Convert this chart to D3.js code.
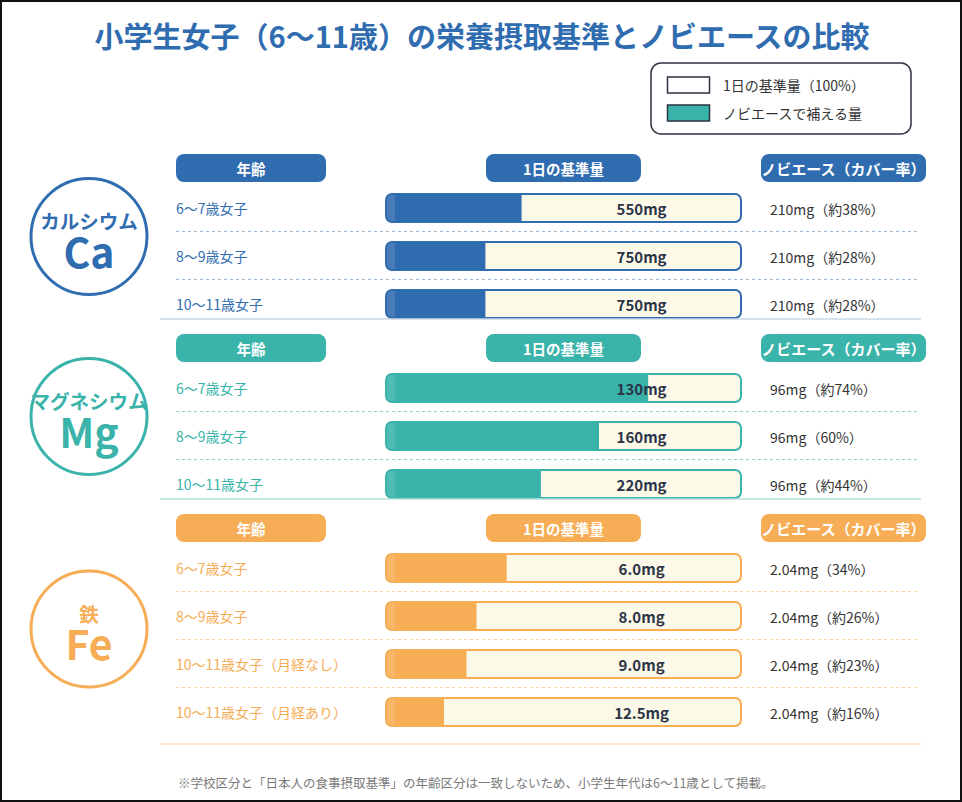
<!DOCTYPE html>
<html><head><meta charset="utf-8">
<script src="https://cdn.jsdelivr.net/npm/d3@7"></script>
<style>
html,body{margin:0;padding:0;background:#fff;}
svg{display:block;font-family:"Noto Sans CJK JP","Noto Sans",sans-serif;}
</style></head>
<body>
<script>
// ---- data ----
const titleText = "小学生女子（6〜11歳）の栄養摂取基準とノビエースの比較";
const footnote = "※学校区分と「日本人の食事摂取基準」の年齢区分は一致しないため、小学生年代は6〜11歳として掲載。";
const legendLabels = ["1日の基準量（100%）", "ノビエースで補える量"];
const headerLabels = ["年齢", "1日の基準量", "ノビエース（カバー率）"];

const minerals = ["カルシウム", "マグネシウム", "鉄"];
const symbols = ["Ca", "Mg", "Fe"];

const caAges = ["6〜7歳女子", "8〜9歳女子", "10〜11歳女子"];
const caBase = [550, 750, 750];
const caSupply = [210, 210, 210];
const caCoverage = ["約38%", "約28%", "約28%"];

const mgAges = ["6〜7歳女子", "8〜9歳女子", "10〜11歳女子"];
const mgBase = [130, 160, 220];
const mgSupply = [96, 96, 96];
const mgCoverage = ["約74%", "60%", "約44%"];

const feAges = ["6〜7歳女子", "8〜9歳女子", "10〜11歳女子（月経なし）", "10〜11歳女子（月経あり）"];
const feBase = [6.0, 8.0, 9.0, 12.5];
const feSupply = [2.04, 2.04, 2.04, 2.04];
const feCoverage = ["34%", "約26%", "約23%", "約16%"];

// ---- styling ----
const W = 962, H = 802;
const sectionColors = ["#2f6cb0", "#3ab3aa", "#f6ad55"];
const dashColors = ["#9dbbd9", "#92d3cd", "#f9d3a3"];
const sepColors = ["#c8d8e6", "#b3dfda", "#fde2bd"];
const cream = "#fdf9e9";

const sections = [
  {ages: caAges, base: caBase, supply: caSupply, cov: caCoverage, decimals: 0},
  {ages: mgAges, base: mgBase, supply: mgSupply, cov: mgCoverage, decimals: 0},
  {ages: feAges, base: feBase, supply: feSupply, cov: feCoverage, decimals: 1}
];
const fmtSupply = v => (Number.isInteger(v) ? v : d3.format(".2f")(v)) + "mg";

const svg = d3.select("body").append("svg").attr("width", W).attr("height", H);
svg.append("rect").attr("x", 1).attr("y", 1).attr("width", W - 2).attr("height", H - 2)
  .attr("fill", "#fff").attr("stroke", "#111").attr("stroke-width", 2);

// title
svg.append("text").attr("x", 482).attr("y", 48).attr("text-anchor", "middle")
  .attr("font-size", 29).attr("font-weight", 700).attr("fill", sectionColors[0]).text(titleText);

// legend
const lg = svg.append("g");
lg.append("rect").attr("x", 651).attr("y", 63).attr("width", 260).attr("height", 71).attr("rx", 10)
  .attr("fill", "#fff").attr("stroke", "#2d3340").attr("stroke-width", 1.5);
const legendFills = ["#ffffff", sectionColors[1]];
const lgY = d3.scalePoint().domain(legendLabels).range([85, 113]);
legendLabels.forEach((l, i) => {
  lg.append("rect").attr("x", 667.5).attr("y", lgY(l) - 8).attr("width", 42).attr("height", 16)
    .attr("fill", legendFills[i]).attr("stroke", "#2d3340").attr("stroke-width", 1.5);
  lg.append("text").attr("x", 723).attr("y", lgY(l)).attr("dominant-baseline", "central")
    .attr("font-size", 14).attr("fill", "#333").text(l);
});

// column layout
const cols = [{x: 176, w: 150}, {x: 486, w: 155}, {x: 761, w: 165}];
const barX = d3.scaleLinear().domain([0, 1]).range([386, 741]);
const barH = 28;

let secTop = 154;
sections.forEach((s, si) => {
  const color = sectionColors[si];
  const n = s.ages.length;
  const rowY = d3.scaleLinear().domain([0, 1]).range([secTop + 54, secTop + 102]);
  const lastY = rowY(n - 1);
  const bottom = lastY + (si === sections.length - 1 ? 32 : 15);
  const g = svg.append("g");

  // header pills
  headerLabels.forEach((h, i) => {
    g.append("rect").attr("x", cols[i].x).attr("y", secTop).attr("width", cols[i].w).attr("height", 28)
      .attr("rx", 8).attr("fill", color);
    g.append("text").attr("x", cols[i].x + cols[i].w / 2).attr("y", secTop + 14.5)
      .attr("text-anchor", "middle").attr("dominant-baseline", "central")
      .attr("font-size", i === 2 ? 15 : 14.5).attr("font-weight", 700).attr("fill", "#fff").text(h);
  });

  // circle
  const cy = (secTop + bottom) / 2;
  g.append("circle").attr("cx", 89).attr("cy", cy).attr("r", 58)
    .attr("fill", "#fff").attr("stroke", color).attr("stroke-width", 3);
  g.append("text").attr("x", 89).attr("y", cy - 16).attr("text-anchor", "middle")
    .attr("dominant-baseline", "central").attr("font-size", 19.5).attr("font-weight", 700)
    .attr("fill", color).text(minerals[si]);
  g.append("text").attr("x", 89).attr("y", cy + 13).attr("text-anchor", "middle")
    .attr("dominant-baseline", "central")
    .attr("font-size", 41).attr("font-weight", 700).attr("fill", color).text(symbols[si]);

  // rows
  s.ages.forEach((age, ri) => {
    const y = rowY(ri);
    g.append("text").attr("x", 176).attr("y", y).attr("dominant-baseline", "central")
      .attr("font-size", 14).attr("fill", color).text(age);

    const clipId = `clip-${si}-${ri}`;
    const bx = barX(0), bw = barX(1) - barX(0);
    g.append("clipPath").attr("id", clipId).append("rect")
      .attr("x", bx).attr("y", y - barH / 2).attr("width", bw).attr("height", barH).attr("rx", 6);
    g.append("rect").attr("x", bx).attr("y", y - barH / 2).attr("width", bw).attr("height", barH)
      .attr("rx", 6).attr("fill", cream);
    const ratio = s.supply[ri] / s.base[ri];
    g.append("rect").attr("clip-path", `url(#${clipId})`)
      .attr("x", bx).attr("y", y - barH / 2).attr("width", barX(ratio) - bx).attr("height", barH)
      .attr("fill", color);
    g.append("rect").attr("clip-path", `url(#${clipId})`)
      .attr("x", bx).attr("y", y - barH / 2).attr("width", 9).attr("height", barH)
      .attr("fill", "#fff").attr("opacity", 0.12);
    g.append("rect").attr("x", bx).attr("y", y - barH / 2).attr("width", bw).attr("height", barH)
      .attr("rx", 6).attr("fill", "none").attr("stroke", color).attr("stroke-width", 2);
    g.append("text").attr("x", barX(0.72)).attr("y", y + 0.5).attr("text-anchor", "middle")
      .attr("dominant-baseline", "central").attr("font-size", 15).attr("font-weight", 700)
      .attr("fill", "#2b3447").text(d3.format(`.${s.decimals}f`)(s.base[ri]) + "mg");

    g.append("text").attr("x", 770).attr("y", y + 0.5).attr("dominant-baseline", "central")
      .attr("font-size", 14).attr("fill", "#333").text(`${fmtSupply(s.supply[ri])}（${s.cov[ri]}）`);

    if (ri < n - 1) {
      g.append("line").attr("x1", 176).attr("x2", 917).attr("y1", y + 23.5).attr("y2", y + 23.5)
        .attr("stroke", dashColors[si]).attr("stroke-width", 1).attr("stroke-dasharray", "3,3");
    }
  });

  g.append("line").attr("x1", 160).attr("x2", 921).attr("y1", bottom).attr("y2", bottom)
    .attr("stroke", sepColors[si]).attr("stroke-width", 1.5);
  secTop = bottom + 15;
});

svg.append("text").attr("x", 178).attr("y", 782).attr("dominant-baseline", "central")
  .attr("font-size", 12.5).attr("fill", "#7a7a7a").text(footnote);
</script>
</body></html>
